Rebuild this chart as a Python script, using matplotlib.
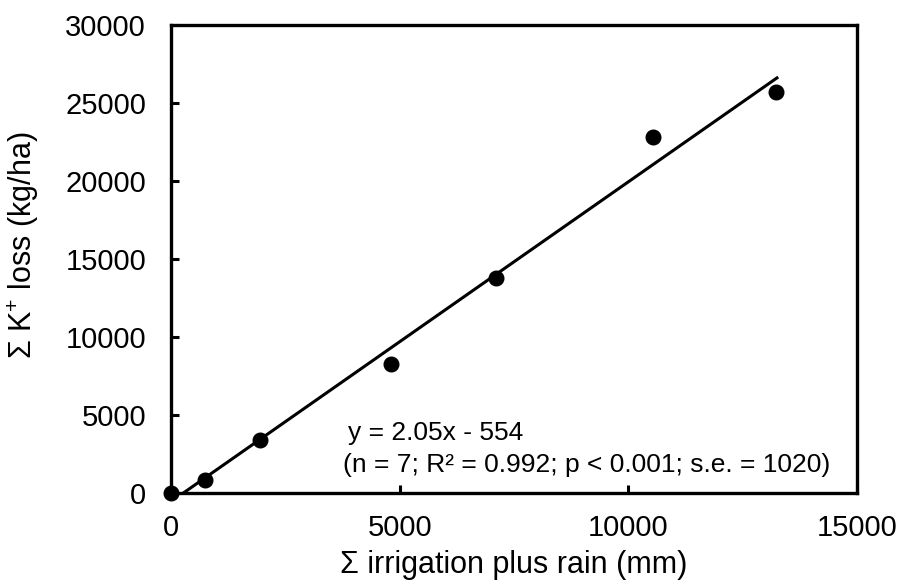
import matplotlib
matplotlib.use("Agg")
import matplotlib.pyplot as plt
import numpy as np

plt.rcParams['font.family'] = ['Liberation Sans', 'DejaVu Sans']
plt.rcParams['mathtext.fontset'] = 'custom'
plt.rcParams['mathtext.rm'] = 'Liberation Sans'
plt.rcParams['mathtext.default'] = 'regular'

# Data
water_mm = [0, 740, 1950, 4800, 7100, 10530, 13230]
k_loss = [0, 850, 3400, 8300, 13800, 22800, 25700]
slope = 2.05
intercept = -554
fit_x = [270, 13250]
x_ticks = [0, 5000, 10000, 15000]
y_ticks = [0, 5000, 10000, 15000, 20000, 25000, 30000]

fig = plt.figure(figsize=(8.98, 5.86), dpi=100)
ax = fig.add_axes([171/898, 1-493/586, (857-171)/898, (493-25)/586])

fx = np.array(fit_x, dtype=float)
ax.plot(fx, slope*fx + intercept, color='black', lw=2.2, zorder=2)
ax.plot(water_mm, k_loss, 'o', color='black', ms=10.5, zorder=3, clip_on=False)

ax.set_xlim(0, 15000)
ax.set_ylim(0, 30000)
ax.set_xticks(x_ticks)
ax.set_yticks(y_ticks)
ax.tick_params(direction='in', length=6, width=2.2, labelsize=21, pad=15,
               top=False, right=False)
ax.tick_params(axis='y', pad=18)
for s in ax.spines.values():
    s.set_linewidth(2.4)

ax.set_xlabel('Σ irrigation plus rain (mm)', fontsize=22, labelpad=6)
ax.set_ylabel('Σ K$^{+}$ loss (kg/ha)', fontsize=22)
ax.yaxis.set_label_coords(-0.19, 0.53)

ax.text(3865, 3400, 'y = 2.05x - 554', fontsize=19, va='baseline', ha='left')
ax.text(3755, 1346, '(n = 7; R² = 0.992; p < 0.001; s.e. = 1020)', fontsize=19,
        va='baseline', ha='left')

fig.savefig('out.png', dpi=100)
